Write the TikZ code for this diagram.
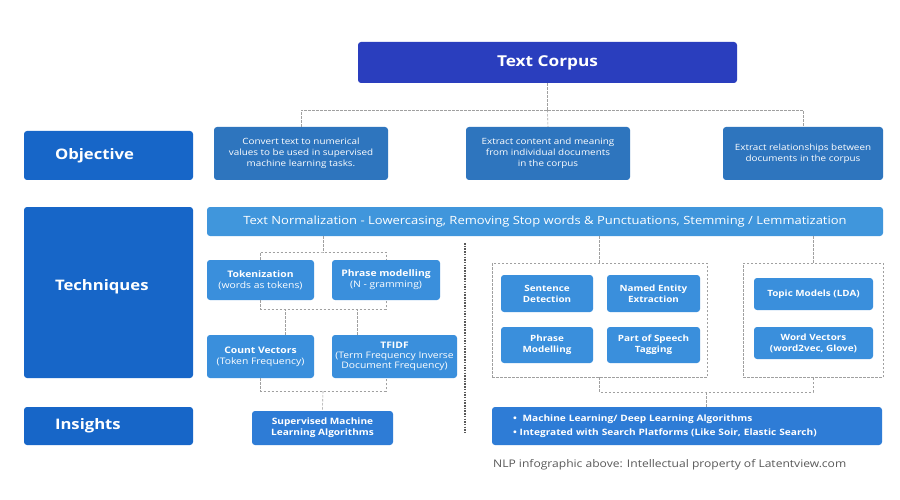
\documentclass[tikz,border=0pt]{standalone}
\usepackage{fontspec}
\setmainfont{Open Sans}[FakeStretch=1.15]
\usepackage{xcolor}
\usetikzlibrary{positioning}

\definecolor{corpusblue}{RGB}{42,62,190}
\definecolor{lblblue}{RGB}{23,102,200}
\definecolor{objblue}{RGB}{46,117,190}
\definecolor{normblue}{RGB}{64,150,220}
\definecolor{techblue}{RGB}{58,143,220}
\definecolor{insblue}{RGB}{46,124,214}
\definecolor{linkgrey}{RGB}{160,160,160}

\newcommand{\fsz}[2]{\fontsize{#1}{#2}\selectfont}

\begin{document}
\begin{tikzpicture}[x=1pt,y=-1pt,
  caja/.style={rectangle,rounded corners=3pt,text=white,align=center,inner sep=2pt},
  titulo/.style={caja,fill=corpusblue,font=\bfseries\fsz{15}{18}},
  etiqueta/.style={caja,fill=lblblue,font=\bfseries\fsz{14.5}{17},align=left,inner xsep=31pt,text width=107pt},
  objetivo/.style={caja,fill=objblue,font=\fsz{8.6}{11}},
  tecnica/.style={caja,fill=techblue,font=\fsz{9}{10.8}},
  grupo/.style={caja,fill=techblue,font=\bfseries\fsz{8.6}{11}},
  salida/.style={caja,fill=insblue,font=\bfseries\fsz{8.8}{14}},
  marco/.style={rectangle,draw=linkgrey,dash pattern=on 2.5pt off 1.5pt,line width=0.6pt},
  enlace/.style={draw=linkgrey,dash pattern=on 2.5pt off 1.5pt,line width=0.6pt},
  separa/.style={draw=black!65,dash pattern=on 1.5pt off 1.2pt,line width=1.1pt}
]
  \useasboundingbox[fill=white] (0,0) rectangle (900,500);

  % top row
  \node[titulo,minimum width=379pt,minimum height=41pt] (corpus) at (547.5,62.5) {Text Corpus};
  \node[etiqueta,minimum height=49pt] (objlbl) at (108.5,155.5) {Objective};
  \node[objetivo,minimum width=174pt,minimum height=53pt] (obj1) at (301,153.5)
    {Convert text to numerical\\values to be used in supervised\\machine learning tasks.};
  \node[objetivo,minimum width=164pt,minimum height=53pt] (obj2) at (548,153.5)
    {Extract content and meaning\\from individual documents\\in the corpus};
  \node[objetivo,minimum width=160pt,minimum height=53pt] (obj3) at (803,153.5)
    {Extract relationships between\\documents in the corpus};

  \coordinate (c0) at (547.5,110);
  \draw[enlace] (corpus.south) -- (c0);
  \draw[enlace] (obj1.north) |- (c0) -| (obj3.north);
  \draw[enlace] (c0) -- (obj2.north);

  % techniques
  \node[etiqueta,minimum height=171pt] (techlbl) at (108.5,292.5) {\raisebox{16pt}{Techniques}};
  \node[caja,fill=normblue,font=\fsz{11.3}{13},minimum width=676pt,minimum height=29pt] (norm) at (545,221.5)
    {Text Normalization - Lowercasing, Removing Stop words \& Punctuations, Stemming / Lemmatization};

  \node[tecnica,minimum width=107pt,minimum height=40pt] (tok) at (260.5,280)
    {\textbf{Tokenization}\\(words as tokens)};
  \node[tecnica,minimum width=108pt,minimum height=40pt] (phr) at (386,280)
    {\textbf{Phrase modelling}\\(N - gramming)};
  \node[tecnica,minimum width=107pt,minimum height=43pt] (cnt) at (260.5,356.5)
    {\textbf{Count Vectors}\\(Token Frequency)};
  \node[tecnica,minimum width=125pt,minimum height=43pt,font=\fsz{9}{10.2}] (tfidf) at (394.5,356.5)
    {\textbf{TFIDF}\\(Term Frequency Inverse\\Document Frequency)};

  \coordinate (c1) at (323,252);
  \coordinate (c2) at (323,309);
  \coordinate (c3) at (323,391);
  \draw[enlace] (c1 |- norm.south) -- (c1);
  \draw[enlace] (tok.north) |- (c1) -| (phr.north);
  \draw[enlace] (tok.south) |- (c2) -| (phr.south);
  \draw[enlace] ([xshift=25pt]cnt.north) -- ([xshift=25pt]cnt.north |- c2);
  \draw[enlace] ([xshift=-37pt]tfidf.north) -- ([xshift=-37pt]tfidf.north |- c2);
  \draw[enlace] (cnt.south) |- (c3) -| ([xshift=-8.5pt]tfidf.south);

  % right groups
  \node[marco,minimum width=215pt,minimum height=114pt] (grp1) at (599.5,320) {};
  \node[marco,minimum width=140pt,minimum height=114pt] (grp2) at (813,320) {};
  \node[grupo,minimum width=92pt,minimum height=37pt] (sent) at (547,293.5) {Sentence\\Detection};
  \node[grupo,minimum width=93pt,minimum height=37pt] (ner) at (653.5,293.5) {Named Entity\\Extraction};
  \node[grupo,minimum width=92pt,minimum height=36pt] (phrm) at (547,345) {Phrase\\Modelling};
  \node[grupo,minimum width=93pt,minimum height=36pt] (pos) at (653.5,345) {Part of Speech\\Tagging};
  \node[grupo,minimum width=119pt,minimum height=32pt] (topic) at (813.5,294) {Topic Models (LDA)};
  \node[grupo,minimum width=119pt,minimum height=32pt] (wvec) at (813.5,343) {Word Vectors\\(word2vec, Glove)};

  \coordinate (c4) at (706,392);
  \draw[enlace] (grp1.north |- norm.south) -- (grp1.north);
  \draw[enlace] (grp2.north |- norm.south) -- (grp2.north);
  \draw[enlace] (grp1.south) |- (c4) -| (grp2.south);

  % separator
  \coordinate (s0) at (465,243);
  \coordinate (s1) at (465,433);
  \draw[separa] (s0) -- (s1);

  % insights
  \node[etiqueta,minimum height=38pt] (inslbl) at (108.5,426) {Insights};
  \node[salida,minimum width=141pt,minimum height=34pt,font=\bfseries\fsz{8.8}{11}] (super) at (322.5,428)
    {Supervised Machine\\Learning Algorithms};
  \node[salida,minimum width=390pt,minimum height=38pt,align=left,text width=348pt,inner xsep=21pt] (bullets) at (687,426)
    {\textbullet\ \ Machine Learning/ Deep Learning Algorithms\\
     \textbullet\ Integrated with Search Platforms (Like Soir, Elastic Search)};
  \draw[enlace] (c3) -- (super.north);
  \draw[enlace] (c4) -- (c4 |- bullets.north);

  \node[anchor=west,inner sep=0pt,text=black!65,font=\fsz{10.5}{12}] (nota) at (493,465)
    {NLP infographic above: Intellectual property of Latentview.com};
\end{tikzpicture}
\end{document}
